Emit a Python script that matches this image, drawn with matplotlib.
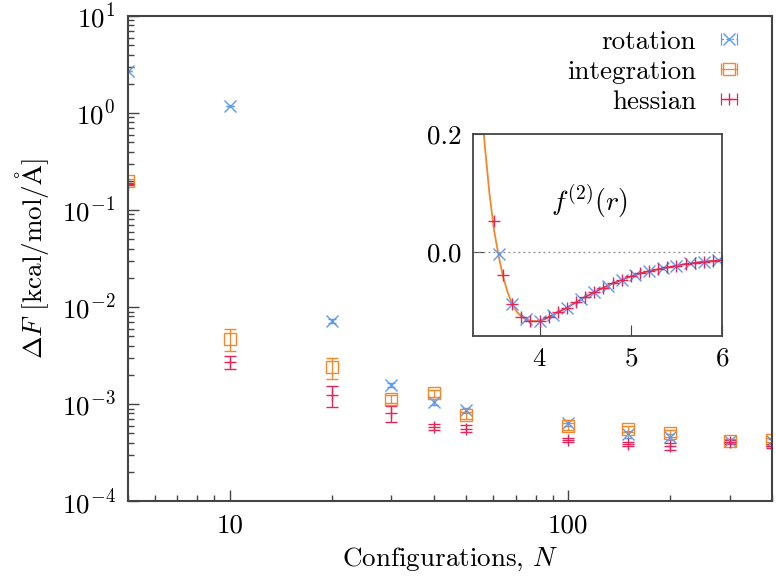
import numpy as np
import matplotlib
matplotlib.use("Agg")
import matplotlib.pyplot as plt
from matplotlib.lines import Line2D
from matplotlib.legend_handler import HandlerLine2D

plt.rcParams['font.family'] = 'serif'
plt.rcParams['font.serif'] = ['cmr10']
plt.rcParams['mathtext.fontset'] = 'cm'
plt.rcParams['axes.unicode_minus'] = False
plt.rcParams['axes.formatter.use_mathtext'] = True

# main panel data
N = np.array([5, 10, 20, 30, 40, 50, 100, 150, 200, 300, 400])
rot = np.array([2.7, 1.18, 0.0072, 0.00157, 0.00106, 0.00086, 0.00064, 0.00049, 0.00046, 0.00042, 0.00042])
rot_err = np.array([0.0, 0.0, 0.0003, 0.00008, 0.00008, 0.00005, 0.00004, 0.00004, 0.00003, 0.00002, 0.00002])
integ = np.array([0.20, 0.0047, 0.0024, 0.00113, 0.00129, 0.00077, 0.00059, 0.00055, 0.00050, 0.00042, 0.00043])
integ_err = np.array([0.008, 0.0012, 0.0006, 0.0001, 0.0001, 0.00006, 0.00005, 0.00004, 0.00004, 0.00002, 0.00002])
hess = np.array([0.185, 0.0027, 0.00124, 0.00081, 0.00058, 0.00056, 0.00043, 0.00039, 0.00037, 0.00041, 0.00037])
hess_err = np.array([0.005, 0.0004, 0.0003, 0.00015, 0.00004, 0.00005, 0.00002, 0.00002, 0.00003, 0.00002, 0.00002])

# inset data
r_line = [3.35, 3.40, 3.45, 3.50, 3.55, 3.60, 3.65, 3.70, 3.75, 3.80, 3.85, 3.90, 3.95, 4.00,
          4.05, 4.10, 4.15, 4.20, 4.30, 4.40, 4.50, 4.60, 4.70, 4.80, 4.90, 5.00, 5.10, 5.20,
          5.30, 5.40, 5.50, 5.60, 5.70, 5.80, 5.90, 6.00]
f_line = [0.27, 0.18, 0.10, 0.038, -0.005, -0.042, -0.068, -0.088, -0.101, -0.109, -0.114,
          -0.116, -0.117, -0.116, -0.114, -0.110, -0.106, -0.102, -0.094, -0.085, -0.076,
          -0.068, -0.060, -0.053, -0.047, -0.041, -0.036, -0.032, -0.029, -0.026, -0.023,
          -0.020, -0.018, -0.016, -0.015, -0.013]
r_rot = [3.55, 3.70, 3.85, 4.00, 4.15, 4.30, 4.45, 4.60, 4.75, 4.90, 5.05, 5.20, 5.35, 5.50, 5.65, 5.80, 5.95]
f_rot = [-0.003, -0.088, -0.114, -0.116, -0.106, -0.094, -0.080, -0.068, -0.057, -0.047,
         -0.039, -0.032, -0.027, -0.023, -0.019, -0.016, -0.014]
r_hess = [3.5, 3.6, 3.7, 3.8, 3.9, 4.0, 4.1, 4.2, 4.3, 4.4, 4.5, 4.6, 4.7, 4.8, 4.9, 5.0,
          5.1, 5.2, 5.3, 5.4, 5.5, 5.6, 5.7, 5.8, 5.9, 6.0]
f_hess = [0.052, -0.038, -0.088, -0.110, -0.116, -0.117, -0.110, -0.102, -0.094, -0.085,
          -0.076, -0.068, -0.060, -0.053, -0.047, -0.041, -0.036, -0.032, -0.029, -0.026,
          -0.023, -0.020, -0.018, -0.016, -0.015, -0.013]

c_rot = '#5b9bf0'
c_int = '#f5872a'
c_hess = '#e6245a'
spine_c = '#444444'
fs = 19.5

fig = plt.figure(figsize=(7.76, 5.82), dpi=100)
ax = fig.add_axes([0.165, 0.139, 0.83, 0.8335])

e1 = ax.errorbar(N, rot, yerr=rot_err, fmt='x', color=c_rot, ms=8, mew=1.0,
                 elinewidth=0.8, capsize=3)
e1[-1][0].set_linestyle((0, (2, 2)))
ax.errorbar(N, integ, yerr=integ_err, fmt='s', color=c_int, mfc='none', ms=8, mew=1.0,
            elinewidth=0.9, capsize=4)
ax.errorbar(N, hess, yerr=hess_err, fmt='+', color=c_hess, ms=9, mew=1.0,
            elinewidth=0.9, capsize=4)

ax.set_xscale('log')
ax.set_yscale('log')
ax.set_xlim(5, 400)
ax.set_ylim(1e-4, 10)
ax.tick_params(which='both', direction='in', top=False, right=False, colors=spine_c,
               labelcolor='black', labelsize=fs)
ax.tick_params(which='major', length=8, width=1.0, pad=9)
ax.tick_params(which='minor', length=4, width=1.0)
ax.set_xticks([10, 100])
ax.set_xticklabels(['10', '100'])
for s in ax.spines.values():
    s.set_color(spine_c)
    s.set_linewidth(1.5)

ax.set_xlabel(r'Configurations, $N$', fontsize=fs, labelpad=6)
ax.set_ylabel(r'$\Delta F$ [kcal/mol/$\mathrm{\AA}$]', fontsize=fs, labelpad=8)

# gnuplot-style legend samples: horizontal bar with end caps and a marker
handles = []
hmap = {}
for c, m, ls, mfc, ms in [(c_rot, 'x', (0, (2, 2)), c_rot, 8),
                          (c_int, 's', '-', 'none', 8),
                          (c_hess, '+', '-', c_hess, 9)]:
    bar = Line2D([], [], color=c, lw=0.9, ls=ls, marker='|', ms=8, mew=0.9)
    mk = Line2D([], [], color=c, ls='none', marker=m, mfc=mfc, ms=ms, mew=1.0)
    hmap[bar] = HandlerLine2D(numpoints=2)
    handles.append((bar, mk))
ax.legend(handles, ['rotation', 'integration', 'hessian'], handler_map=hmap,
          loc='upper right', bbox_to_anchor=(1.0, 1.027), frameon=False,
          markerfirst=False, fontsize=fs,
          handlelength=1.2, handletextpad=0.6, labelspacing=0.22,
          borderaxespad=0.8, borderpad=0.2)

# inset
ins = fig.add_axes([0.6095, 0.4227, 0.321, 0.347])
ins.axhline(0.0, color='#888888', lw=0.9, ls=(0, (1.5, 2.5)))
ins.plot(r_line, f_line, color=c_int, lw=1.3)
ins.plot(r_hess[5:], f_hess[5:], color=c_hess, lw=0.9)
ins.plot(r_rot, f_rot, 'x', color=c_rot, ms=8, mew=1.0)
ins.plot(r_hess, f_hess, '+', color=c_hess, ms=9, mew=1.0)
ins.set_xlim(3.27, 6.0)
ins.set_ylim(-0.142, 0.2)
ins.set_xticks([4, 5, 6])
ins.set_yticks([0.0, 0.2])
ins.set_yticklabels(['0.0', '0.2'])
ins.tick_params(direction='in', top=False, right=False, colors=spine_c,
                labelcolor='black', labelsize=fs, length=8, pad=8)
for s in ins.spines.values():
    s.set_color(spine_c)
    s.set_linewidth(1.3)
ins.text(4.55, 0.085, r'$f^{(2)}(r)$', fontsize=20, ha='center', va='center')

fig.savefig('out.png', dpi=100)
